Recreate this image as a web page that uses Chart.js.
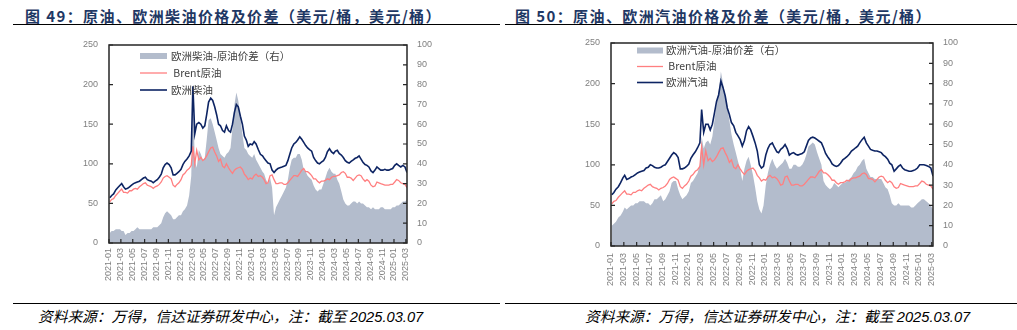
<!DOCTYPE html>
<html>
<head>
<meta charset="utf-8">
<script src="https://cdn.jsdelivr.net/npm/chart.js@4.4.1/dist/chart.umd.min.js"></script>
<style>
  body { margin: 0; width: 1017px; height: 330px; background: #fff; position: relative; overflow: hidden; }
  .title { position: absolute; top: 6px; font: bold 15px "Noto Sans CJK SC", sans-serif; color: #1f3864; letter-spacing: 1.4px; line-height: 20px; white-space: nowrap; }
  .rule { position: absolute; height: 0; border-top: 1.5px solid #000; }
  .note { position: absolute; top: 306px; font: italic 14.7px "Noto Sans CJK SC", sans-serif; line-height: 20px; white-space: nowrap; color: #000; }
  .note span { font-family: "Liberation Sans", Arial, sans-serif; }
  canvas { position: absolute; top: 0; }
</style>
</head>
<body>
<div class="title" style="left:25px">图 49：原油、欧洲柴油价格及价差（美元/桶，美元/桶）</div>
<div class="rule" style="left:13px; top:24px; width:487px"></div>
<div class="title" style="left:515px">图 50：原油、欧洲汽油价格及价差（美元/桶，美元/桶）</div>
<div class="rule" style="left:505px; top:24px; width:512px"></div>

<canvas id="c1" width="500" height="300" style="left:0"></canvas>
<canvas id="c2" width="517" height="300" style="left:500px"></canvas>

<div class="rule" style="left:13px; top:303px; width:487px"></div>
<div class="rule" style="left:505px; top:303px; width:512px"></div>
<div class="note" style="left:38px">资料来源：万得，信达证券研发中心，注：截至 <span>2025.03.07</span></div>
<div class="note" style="left:585px">资料来源：万得，信达证券研发中心，注：截至 <span>2025.03.07</span></div>

<script>
// three readings a month (5th, 15th, 25th), last one 2025-03-07
const brent = [
  52,55,56, 60,63,66, 68,64,64, 63,66,66, 68,69,68, 71,73,75, 76,73,72, 71,69,71, 72,74,77, 82,84,85, 83,81,73, 71,74,76,
  80,86,88, 92,94,98, 122,100,117, 105,108,104, 106,110,115, 120,121,115, 110,103,106, 97,95,100, 95,91,88, 92,94,95, 96,93,87, 84,80,82,
  81,85,87, 84,85,83, 80,75,76, 85,86,80, 75,75,76, 76,74,74, 76,79,82, 85,85,84, 88,92,94, 90,90,88, 85,81,81, 78,76,78,
  78,79,81, 80,83,84, 84,85,86, 89,90,88, 83,83,82, 79,82,85, 86,85,81, 78,80,78, 73,71,72, 77,76,75, 74,73,73, 73,74,74,
  77,80,79, 76,75,74, 70
];
const diesel = [
  57,60,62, 67,70,73, 75,71,68, 69,71,73, 75,76,77, 78,80,82, 83,80,79, 78,76,78, 80,83,87, 95,99,101, 99,95,86, 86,88,90,
  93,99,103, 106,110,116, 198,138,150, 152,150,145, 148,162,178, 183,180,172, 162,150,148, 142,140,148, 142,140,150, 165,175,172, 160,150,135, 130,122,125,
  124,128,125, 118,112,110, 107,104,101, 100,92,89, 92,94,95, 96,97,98, 104,112,120, 125,127,130, 134,131,127, 123,120,118, 116,108,104, 101,100,102,
  104,108,115, 119,115,113, 116,117,113, 111,108,104, 102,101,103, 105,107,108, 110,106,102, 99,98,96, 91,89,92, 96,94,92, 92,93,92, 92,93,94,
  98,100,98, 96,98,96, 89
];
const dieselSpread = [
  5,6,6, 7,7,7, 6,6,4, 5,5,6, 6,7,8, 7,7,7, 7,7,7, 7,8,8, 8,9,10, 13,15,16, 15,14,12, 12,13,14,
  14,16,17, 19,24,34, 74,42,38, 47,45,42, 43,52,62, 63,60,56, 52,48,45, 44,43,45, 46,48,58, 70,76,72, 63,55,48, 47,45,44,
  43,45,42, 40,38,36, 35,32,30, 33,28,14, 18,20,22, 24,26,28, 32,38,42, 43,43,45, 45,42,37, 36,34,33, 32,29,27, 26,27,27,
  30,33,36, 38,36,35, 35,32,30, 26,22,20, 19,19,20, 21,21,20, 21,20,20, 19,18,18, 17,18,17, 17,17,18, 18,17,17, 17,17,18,
  18,19,19, 20,21,21, 22
];
const gasoline = [
  63,66,70, 73,78,84, 87,82,83, 85,86,88, 90,91,92, 93,96,97, 100,99,97, 96,96,97, 99,100,104, 108,112,115, 113,109,95, 95,96,98,
  101,108,112, 116,121,127, 168,140,150, 150,143,150, 164,178,186, 203,195,185, 170,162,152, 148,140,136, 131,123,130, 142,147,143, 135,127,117, 100,96,98,
  112,120,125, 127,121,116, 115,119,121, 125,120,112, 114,115,113, 112,113,114, 116,123,130, 133,134,133, 131,129,127, 121,114,110, 106,101,99, 98,99,102,
  106,108,110, 113,117,119, 121,123,127, 131,134,127, 123,119,118, 117,117,116, 115,112,110, 107,102,100, 92,95,98, 100,96,94, 93,92,92, 93,94,96,
  100,100,100, 99,98,96, 86
];
const gasolineSpread = [
  10,11,12, 14,15,17, 19,18,19, 20,20,21, 21,22,22, 22,21,21, 20,21,23, 23,24,25, 22,23,25, 27,31,32, 32,28,25, 23,24,25,
  27,31,32, 34,36,40, 54,48,51, 52,50,54, 62,70,76, 86,80,74, 68,62,55, 50,46,42, 38,32,38, 42,44,40, 35,29,22, 18,16,20,
  30,36,40, 43,40,38, 39,40,41, 43,41,38, 38,40,40, 39,39,40, 42,45,49, 50,51,50, 46,43,40, 32,30,29, 28,29,31, 30,29,30,
  31,31,32, 33,34,36, 37,39,40, 42,43,38, 36,34,34, 33,33,33, 33,31,29, 28,25,21, 20,20,21, 20,20,20, 20,20,19, 19,20,21,
  22,23,23, 22,21,20, 18
];

const dates = [];
for (let y = 2021; y <= 2025; y++) {
  for (let m = 1; m <= 12; m++) {
    if (y === 2025 && m > 2) break;
    [5, 15, 25].forEach(d => dates.push(y + '-' + String(m).padStart(2, '0') + '-' + String(d).padStart(2, '0')));
  }
}
dates.push('2025-03-07');

// x axis: months since 2021-01, labelled every two months
const tickMonths = [];
for (let i = 0; i <= 50; i += 2) tickMonths.push(i);

function monthPos(s) {
  const [y, m, d] = s.split('-').map(Number);
  const dim = new Date(y, m, 0).getDate();
  return (y - 2021) * 12 + (m - 1) + (d - 1) / dim;
}
const xs = dates.map(monthPos);
const xMax = xs[xs.length - 1];

function toXY(arr) {
  return arr.map((v, i) => ({ x: xs[i], y: v }));
}

function monthLabel(v) {
  const y = 2021 + Math.floor(v / 12);
  const m = v % 12 + 1;
  return y + '-' + String(m).padStart(2, '0');
}

const NAVY = '#0d2463';
const PINK = '#ff7f80';
const GREY = '#b3bccc';
const TICK = '#7f7f7f';

const framePlugin = {
  id: 'frame',
  afterDatasetsDraw(chart) {
    const { ctx, chartArea: a, scales } = chart;
    ctx.save();
    ctx.strokeStyle = '#262626';
    ctx.lineWidth = 1.5;
    ctx.strokeRect(a.left, a.top, a.right - a.left, a.bottom - a.top);
    ctx.lineWidth = 1.2;
    ctx.beginPath();
    scales.x.ticks.forEach(t => {
      const px = scales.x.getPixelForValue(t.value);
      ctx.moveTo(px, a.bottom);
      ctx.lineTo(px, a.bottom - 4);
    });
    scales.y.ticks.forEach(t => {
      const py = scales.y.getPixelForValue(t.value);
      ctx.moveTo(a.left, py);
      ctx.lineTo(a.left + 4, py);
    });
    scales.y1.ticks.forEach(t => {
      const py = scales.y1.getPixelForValue(t.value);
      ctx.moveTo(a.right, py);
      ctx.lineTo(a.right - 4, py);
    });
    ctx.stroke();
    ctx.restore();
  }
};

function legendPlugin(pos) {
  return {
    id: 'boxLegend',
    afterDraw(chart) {
      const { ctx, chartArea: a } = chart;
      const ds = chart.data.datasets;
      const items = [ds[2], ds[1], ds[0]];
      ctx.save();
      ctx.font = '10.5px "Noto Sans CJK SC", sans-serif';
      ctx.textBaseline = 'middle';
      items.forEach((d, i) => {
        const y = a.top + pos.dy + i * pos.gap;
        const x = a.left + pos.dx;
        if (d.fill) {
          ctx.fillStyle = d.backgroundColor;
          ctx.fillRect(x, y - 3, pos.w, 6);
        } else {
          ctx.strokeStyle = d.borderColor;
          ctx.lineWidth = d.borderWidth;
          ctx.beginPath();
          ctx.moveTo(x, y);
          ctx.lineTo(x + pos.w, y);
          ctx.stroke();
        }
        ctx.fillStyle = '#404040';
        ctx.fillText(d.label, a.left + pos.textDx, y);
      });
      ctx.restore();
    }
  };
}

function makeChart(id, cfg) {
  const font = { family: '"Liberation Sans", Arial, sans-serif', size: 9 };
  return new Chart(document.getElementById(id), {
    type: 'line',
    data: {
      datasets: [{
        label: cfg.productLabel,
        data: toXY(cfg.product),
        yAxisID: 'y',
        borderColor: NAVY,
        borderWidth: 1.6,
        pointRadius: 0,
        fill: false,
        order: 0
      }, {
        label: ' Brent原油',
        data: toXY(brent),
        yAxisID: 'y',
        borderColor: PINK,
        borderWidth: 1.3,
        pointRadius: 0,
        fill: false,
        order: 1
      }, {
        label: cfg.spreadLabel,
        data: toXY(cfg.spread),
        yAxisID: 'y1',
        borderWidth: 0,
        backgroundColor: GREY,
        pointRadius: 0,
        fill: 'origin',
        order: 2
      }]
    },
    options: {
      responsive: false,
      animation: false,
      events: [],
      layout: { padding: cfg.padding },
      plugins: { legend: { display: false }, tooltip: { enabled: false } },
      scales: {
        x: {
          type: 'linear',
          min: 0,
          max: xMax,
          grid: { display: false, drawTicks: false },
          border: { display: false },
          afterBuildTicks: ax => { ax.ticks = tickMonths.map(v => ({ value: v })); },
          afterFit: s => { s.height = 45; },
          ticks: {
            autoSkip: false, maxRotation: 90, minRotation: 90,
            padding: cfg.xPad, color: TICK, font,
            callback: v => monthLabel(v)
          }
        },
        y: {
          position: 'left',
          min: 0, max: 250,
          grid: { display: false, drawTicks: false },
          border: { display: false },
          afterFit: s => { s.width = 50; },
          ticks: { stepSize: 50, padding: 11, color: TICK, font }
        },
        y1: {
          position: 'right',
          min: 0, max: 100,
          grid: { display: false, drawTicks: false },
          border: { display: false },
          afterFit: s => { s.width = 40; },
          ticks: { stepSize: 10, padding: 10, color: TICK, font }
        }
      }
    },
    plugins: [framePlugin, legendPlugin(cfg.legend)]
  });
}

makeChart('c1', {
  product: diesel,
  spread: dieselSpread,
  productLabel: '欧洲柴油',
  spreadLabel: '欧洲柴油-原油价差（右）',
  padding: { left: 59, right: 53, top: 45, bottom: 12 },
  xPad: 5,
  legend: { dx: 31, dy: 11, gap: 17, w: 27, textDx: 62 }
});

makeChart('c2', {
  product: gasoline,
  spread: gasolineSpread,
  productLabel: '欧洲汽油',
  spreadLabel: '欧洲汽油-原油价差（右）',
  padding: { left: 61, right: 44, top: 43, bottom: 9 },
  xPad: 7,
  legend: { dx: 26, dy: 7.5, gap: 16, w: 26, textDx: 55 }
});
</script>
</body>
</html>
